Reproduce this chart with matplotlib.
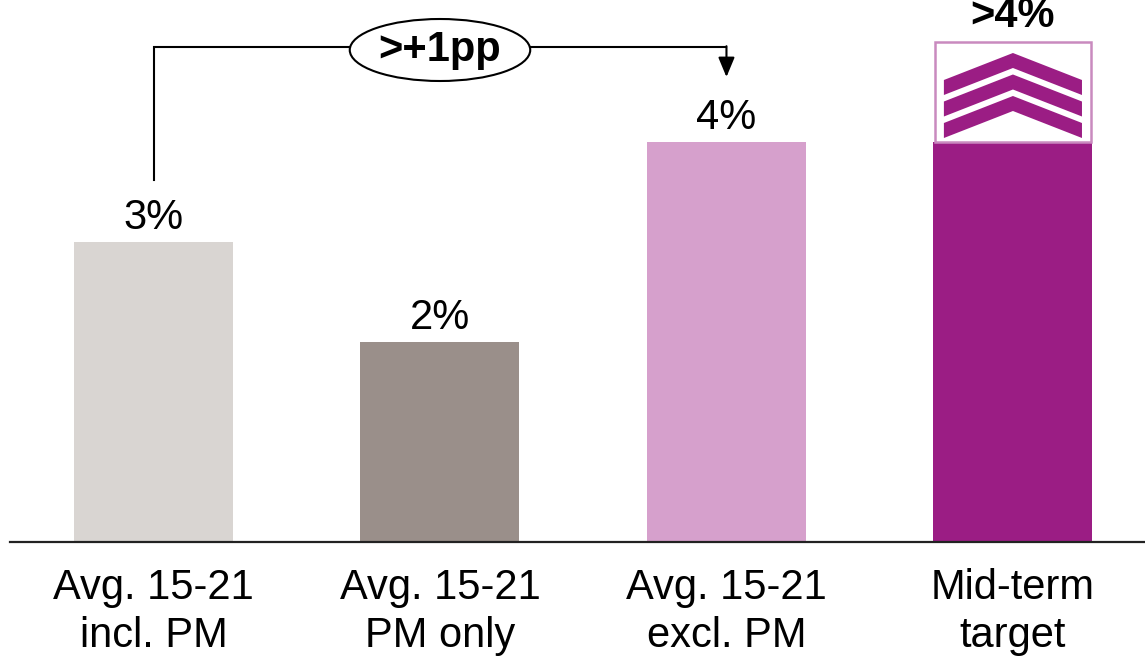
import matplotlib
matplotlib.use("Agg")
import matplotlib.pyplot as plt
from matplotlib.patches import Ellipse, Rectangle, Polygon
import numpy as np

plt.rcParams['font.family'] = ['Liberation Sans', 'DejaVu Sans']

categories = ["Avg. 15-21\nincl. PM", "Avg. 15-21\nPM only", "Avg. 15-21\nexcl. PM", "Mid-term\ntarget"]
values = [3, 2, 4, 4]
value_labels = ["3%", "2%", "4%", None]
target_label = ">4%"
target_upper = 5.0
bracket_label = ">+1pp"
colors = ["#d9d5d2", "#9a8f8a", "#d6a0cc", "#9b1d84"]
box_edge = "#c98abf"

fig = plt.figure(figsize=(11.45, 6.59), dpi=100)
ax = fig.add_axes([10/1145, 117/659, 1135/1145, 542/659])
x = np.arange(len(categories))
w = 0.555
ax.bar(x, values, width=w, color=colors, zorder=2)
ax.set_xlim(-0.501, 3.461)
ax.set_ylim(0, 5.42)
for s in ["top", "left", "right"]:
    ax.spines[s].set_visible(False)
ax.spines["bottom"].set_linewidth(1.6)
ax.spines["bottom"].set_color("#222222")
ax.set_yticks([])
ax.set_xticks(x)
ax.set_xticklabels(categories, fontsize=30, linespacing=1.28)
ax.tick_params(axis='x', length=0, pad=18.5)

for xi, v, lab in zip(x, values, value_labels):
    if lab:
        ax.annotate(lab, (xi, v), xytext=(0, 9.5), textcoords='offset points',
                    ha='center', va='baseline', fontsize=30)

# target box with chevrons
bx = x[3]
rect = Rectangle((bx - w/2 + 0.005, values[3]), w - 0.01, target_upper - values[3],
                 facecolor='white', edgecolor=box_edge, linewidth=1.8, zorder=3)
ax.add_patch(rect)
hw = 0.241
for i in range(3):
    d = 0.215 * i
    top_end = target_upper - 0.38 - d
    top_apex = target_upper - 0.11 - d
    th = 0.15
    pts = [(bx - hw, top_end), (bx, top_apex), (bx + hw, top_end),
           (bx + hw, top_end - th), (bx, top_apex - th), (bx - hw, top_end - th)]
    ax.add_patch(Polygon(pts, closed=True, facecolor=colors[3], edgecolor='none', zorder=4))
ax.annotate(target_label, (bx, target_upper), xytext=(0, 10.5), textcoords='offset points',
            ha='center', va='baseline', fontsize=30, fontweight='bold', annotation_clip=False)

# bracket
yline = 4.95
ax.plot([x[0], x[0], x[2]], [values[0] + 0.62, yline, yline], color='black', lw=1.5,
        solid_joinstyle='miter', zorder=3)
ax.annotate("", xy=(x[2], values[2] + 0.65), xytext=(x[2], yline + 0.008),
            arrowprops=dict(arrowstyle='-|>,head_length=0.6,head_width=0.25', color='black',
                            lw=1.5, shrinkA=0, shrinkB=0, mutation_scale=20), zorder=3)
ell = Ellipse((1.0, 4.92), 0.63, 0.62, facecolor='white', edgecolor='black', lw=1.5, zorder=5)
ax.add_patch(ell)
ax.text(1.0, 4.92, bracket_label, ha='center', va='center', fontsize=30, fontweight='bold', zorder=6)

fig.savefig("out.png", dpi=100)
